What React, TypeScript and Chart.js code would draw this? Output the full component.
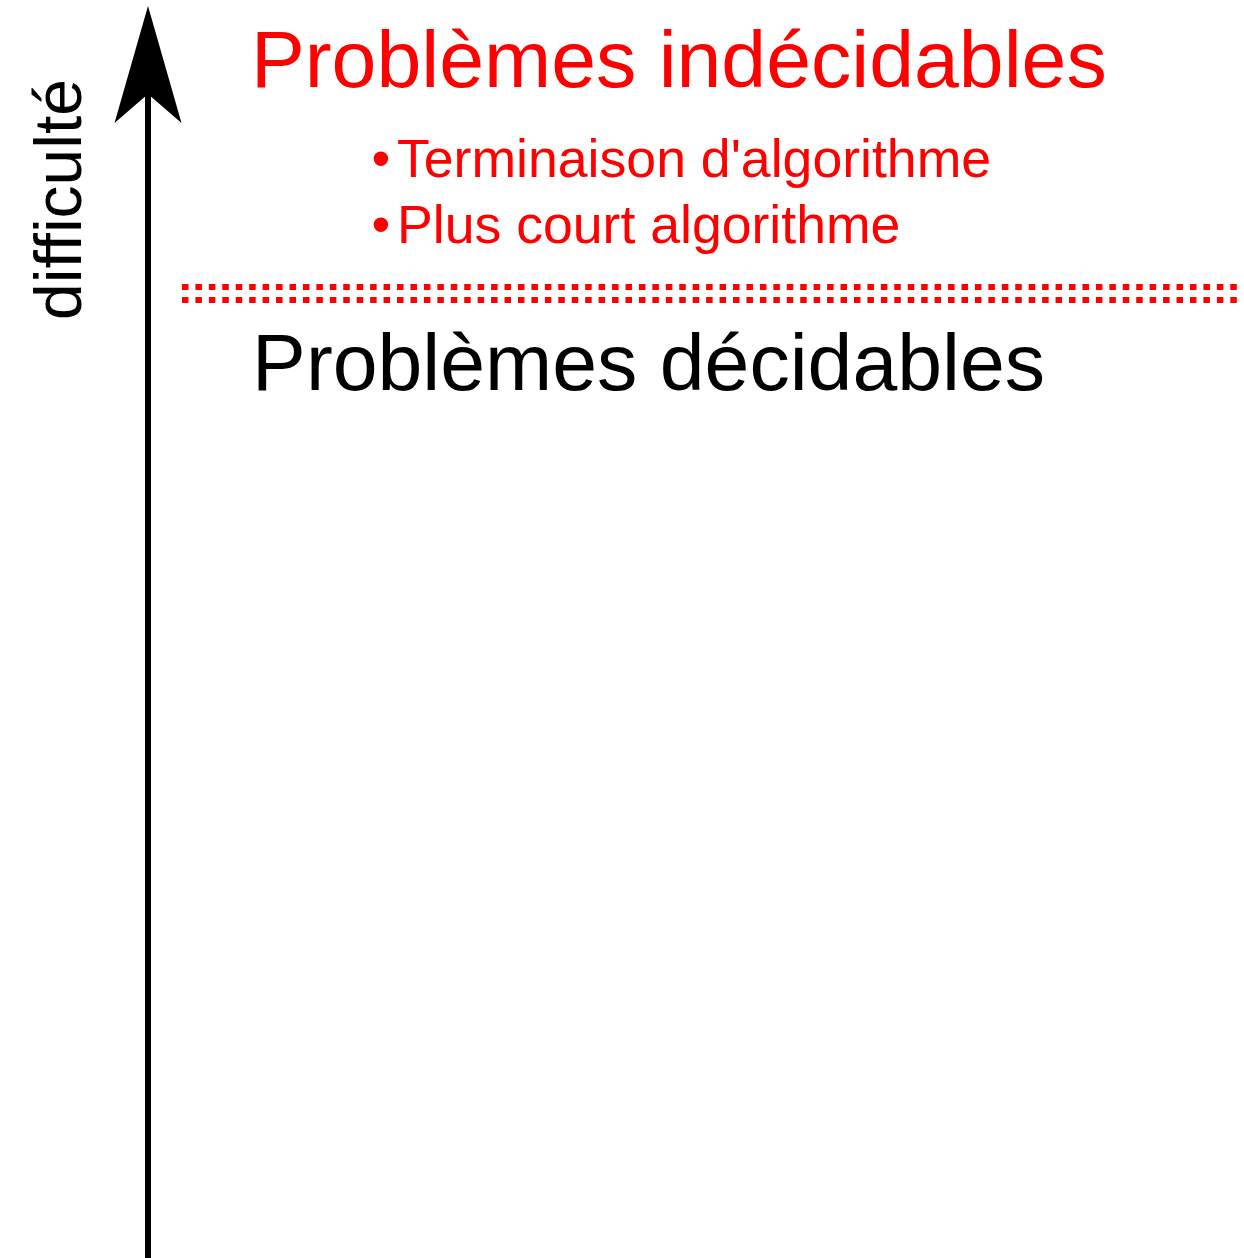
import { useEffect, useRef } from 'react';
import { Chart, registerables } from 'chart.js';

Chart.register(...registerables);

// ---- data (conceptual difficulty scale: x 0..100 across, y 0..100 difficulty) ----
const boundaryX = [3.1, 99.41]; // horizontal extent of the decidability boundary
const boundaryRowsY = [82.36, 81.26]; // the two dotted rows of the boundary
const headings = ['Problèmes indécidables', 'Problèmes décidables'];
const headingColors = ['#ff0000', '#000000'];
const headingX = [9.4, 9.5];
const headingY = [99.36, 73.62];
const undecidableExamples = ["Terminaison d'algorithme", 'Plus court algorithme'];
const exampleBulletX = 20.39;
const exampleTextX = 22.72;
const exampleY = [91.73, 86.09];
const axisTitle = 'difficulté';

const FONT = '"Liberation Sans", Arial, sans-serif';

const labelsPlugin = {
  id: 'diagramLabels',
  afterDatasetsDraw(chart: any) {
    const { ctx } = chart;
    const xs = chart.scales.x;
    const ys = chart.scales.y;
    ctx.save();
    ctx.textBaseline = 'alphabetic';
    ctx.textAlign = 'left';
    headings.forEach((t, i) => {
      ctx.font = `80.6px ${FONT}`;
      ctx.fillStyle = headingColors[i];
      ctx.fillText(t, xs.getPixelForValue(headingX[i]), ys.getPixelForValue(headingY[i]));
    });
    undecidableExamples.forEach((t, i) => {
      ctx.font = `53.6px ${FONT}`;
      ctx.fillStyle = '#ff0000';
      const y = ys.getPixelForValue(exampleY[i]);
      ctx.fillText('\u2022', xs.getPixelForValue(exampleBulletX), y);
      ctx.fillText(t, xs.getPixelForValue(exampleTextX), y);
    });
    ctx.restore();
  },
};

const arrowPlugin = {
  id: 'axisArrow',
  afterDraw(chart: any) {
    const { ctx, chartArea } = chart;
    const x = chartArea.left;
    const top = chartArea.top;
    ctx.save();
    ctx.fillStyle = '#000000';
    ctx.beginPath();
    ctx.moveTo(x, top - 73);
    ctx.lineTo(x + 33.5, top + 44);
    ctx.lineTo(x, top + 15);
    ctx.lineTo(x - 33.5, top + 44);
    ctx.closePath();
    ctx.fill();
    ctx.restore();
  },
};

export default function App() {
  const ref = useRef<HTMLCanvasElement | null>(null);

  useEffect(() => {
    if (!ref.current) return;
    const chart = new Chart(ref.current, {
      type: 'scatter',
      data: {
        datasets: boundaryRowsY.map((yv) => ({
          data: boundaryX.map((xv) => ({ x: xv, y: yv })),
          showLine: true,
          borderColor: '#ff0000',
          borderWidth: 6,
          borderDash: [6.5, 6.94],
          borderCapStyle: 'butt' as const,
          pointRadius: 0,
          fill: false,
        })),
      },
      options: {
        animation: false,
        responsive: false,
        devicePixelRatio: 1,
        events: [],
        layout: { padding: { top: 79, left: 0, right: 0, bottom: 0 } },
        plugins: {
          legend: { display: false },
          tooltip: { enabled: false },
          title: { display: false },
        },
        scales: {
          x: { type: 'linear', min: 0, max: 100, display: false },
          y: {
            type: 'linear',
            min: 0,
            max: 100,
            display: true,
            grid: { display: false },
            ticks: { display: false },
            border: { display: true, width: 6, color: '#000000' },
            title: {
              display: true,
              text: axisTitle,
              align: 'end',
              color: '#000000',
              font: { family: FONT, size: 66, lineHeight: 1 },
              padding: { top: 30, bottom: 0 },
            },
            afterFit(scale: any) {
              scale.width = 148;
            },
          },
        },
      },
      plugins: [labelsPlugin, arrowPlugin],
    } as any);
    return () => chart.destroy();
  }, []);

  return (
    <div style={{ position: 'absolute', left: 0, top: 0, width: 1244, height: 1258, background: '#ffffff' }}>
      <canvas ref={ref} width={1244} height={1258} style={{ display: 'block' }} />
    </div>
  );
}
